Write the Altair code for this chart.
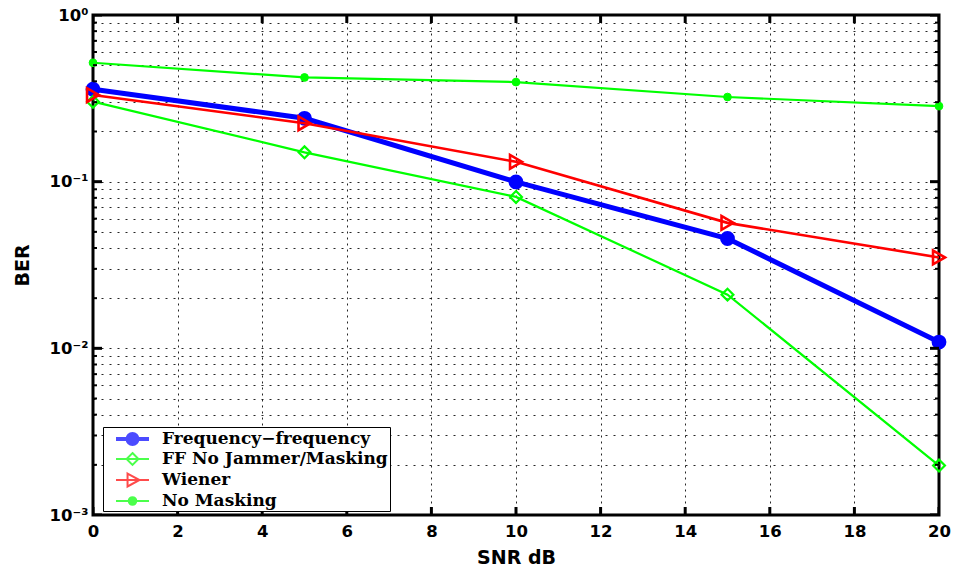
import altair as alt
import pandas as pd

# ---------------- data ----------------
snr = [0, 5, 10, 15, 20]
series_names = ["Frequency\u2212frequency", "FF No Jammer/Masking", "Wiener", "No Masking"]
ber_ff = [0.359, 0.240, 0.0997, 0.0456, 0.0109]
ber_ff_nojam = [0.302, 0.150, 0.081, 0.0210, 0.00198]
ber_wiener = [0.331, 0.224, 0.1315, 0.0566, 0.0351]
ber_nomask = [0.517, 0.422, 0.396, 0.322, 0.284]

x_ticks = [0, 2, 4, 6, 8, 10, 12, 14, 16, 18, 20]
y_major = [0.001, 0.01, 0.1, 1]
y_major_labels = ["10\u207b\u00b3", "10\u207b\u00b2", "10\u207b\u00b9", "10\u2070"]
y_minor = [m * d for d in [0.001, 0.01, 0.1] for m in [2, 3, 4, 5, 6, 7, 8, 9]]

all_ber = [ber_ff, ber_ff_nojam, ber_wiener, ber_nomask]
rows = []
for name, vals in zip(series_names, all_ber):
    for s, b in zip(snr, vals):
        rows.append({"series": name, "snr": s, "ber": b})
df = pd.DataFrame(rows)

# ---------------- styles ----------------
W, H = 846, 500
colors = ["#0000ff", "#00ff00", "#ff0000", "#00ff00"]
line_w = [5, 2.2, 2.6, 2.2]
pt_shape = ["circle", "diamond", "triangle-right", "circle"]
pt_size = [140, 140, 190, 60]
pt_filled = [True, False, False, True]
pt_sw = [3, 2.2, 2.6, 1]
SANS = "DejaVu Sans"
SERIF = "DejaVu Serif"


def circ(r):
    return f"M{r},0A{r},{r} 0 1,1 {-r},0A{r},{r} 0 1,1 {r},0Z"


# legend symbol: unit = 9 px (symbol size 324)
L = 1.83
legend_paths = [
    f"M-{L},-0.11L{L},-0.11M-{L},0L{L},0M-{L},0.11L{L},0.11" + circ(0.66) + circ(0.46) + circ(0.26) + circ(0.08),
    f"M-{L},0L{L},0M0,-0.66L0.66,0L0,0.66L-0.66,0Z",
    f"M-{L},0L{L},0M-0.55,-0.72L0.78,0L-0.55,0.72Z",
    f"M-{L},0L{L},0" + circ(0.42) + circ(0.24) + circ(0.07),
]

xscale = alt.Scale(domain=[0, 20], nice=False, zero=False)
yscale = alt.Scale(type="log", domain=[0.001, 1], nice=False)

label_expr = " : ".join(
    f"datum.value == {v} ? '{lab}'" for v, lab in zip(y_major, y_major_labels)
) + " : ''"

x_axis = alt.Axis(
    values=x_ticks, grid=True, gridDash=[2, 4], labelPadding=8, labelFlush=False,
    title="SNR dB", titleY=48, titleBaseline="alphabetic",
)
y_axis = alt.Axis(
    values=y_major + y_minor, grid=True, gridDash=[2, 6], labelPadding=5, labelExpr=label_expr,
    labelOverlap=False, labelFlush=False,
    title="BER", titleX=-65, titleY=250, titleAngle=-90, titleAlign="center",
    titleBaseline="alphabetic",
)


def X(field):
    return alt.X(field, scale=xscale, axis=x_axis)


def Y(field):
    return alt.Y(field, scale=yscale, axis=y_axis)


layers = []
for i, name in enumerate(series_names):
    sub = alt.Chart(df).transform_filter(alt.datum.series == name)
    line = sub.mark_line(color=colors[i], strokeWidth=line_w[i]).encode(
        x=X("snr:Q"), y=Y("ber:Q"),
    )
    if pt_filled[i]:
        pm = sub.mark_point(shape=pt_shape[i], size=pt_size[i], filled=True, fill=colors[i],
                            stroke=colors[i], strokeWidth=pt_sw[i], opacity=1)
    else:
        pm = sub.mark_point(shape=pt_shape[i], size=pt_size[i], filled=False, color=colors[i],
                            strokeWidth=pt_sw[i], opacity=1)
    pts = pm.encode(x=X("snr:Q"), y=Y("ber:Q"))
    layers += [line, pts]

# inward ticks (box style)
ymaj_df = pd.DataFrame({"v": y_major})
ymin_df = pd.DataFrame({"v": y_minor})
xt_df = pd.DataFrame({"v": x_ticks})


def ytick(d, length, thick, xpos):
    return alt.Chart(d).mark_tick(orient="horizontal", color="black", size=2 * length,
                                  thickness=thick, clip=True, opacity=1).encode(
        y=Y("v:Q"), x=alt.value(xpos))


def xtick(d, length, thick, ypos):
    return alt.Chart(d).mark_tick(orient="vertical", color="black", size=2 * length,
                                  thickness=thick, clip=True, opacity=1).encode(
        x=X("v:Q"), y=alt.value(ypos))


layers += [
    ytick(ymaj_df, 9, 3, 0), ytick(ymaj_df, 9, 3, W),
    ytick(ymin_df, 4, 2, 0), ytick(ymin_df, 4, 2, W),
    xtick(xt_df, 8, 3, H), xtick(xt_df, 8, 3, 0),
]

# legend carrier (no visible marks)
leg = alt.Chart(pd.DataFrame({"series": series_names})).transform_filter("false").mark_point(
    filled=False, size=324, strokeWidth=2
).encode(
    color=alt.Color("series:N", scale=alt.Scale(domain=series_names, range=colors), legend=alt.Legend(title=None)),
    shape=alt.Shape("series:N", scale=alt.Scale(domain=series_names, range=legend_paths), legend=alt.Legend(title=None)),
)
layers.append(leg)

chart = alt.layer(*layers).properties(
    width=W, height=H,
    autosize=alt.AutoSizeParams(type="none"),
    padding={"left": 93, "top": 15, "right": 16, "bottom": 60},
    background="white",
).configure_view(
    stroke="black", strokeWidth=3
).configure_axis(
    gridColor="black", gridOpacity=0.85, gridWidth=1, ticks=False, domain=False,
    labelFont=SANS, labelFontWeight="bold", labelFontSize=16.5, labelColor="black",
    titleFont=SANS, titleFontWeight="bold", titleFontSize=19, titleColor="black",
).configure_legend(
    orient="none", legendX=10, legendY=412, fillColor="white", strokeColor="black",
    padding=2, symbolOffset=17.5, labelOffset=19.5, rowPadding=0, symbolSize=324,
    symbolStrokeWidth=2, labelFont=SERIF, labelFontWeight="bold",
    labelFontSize=17, labelColor="black", labelLimit=400,
)

chart.save("out.html", embed_options={"renderer": "svg", "actions": False})
